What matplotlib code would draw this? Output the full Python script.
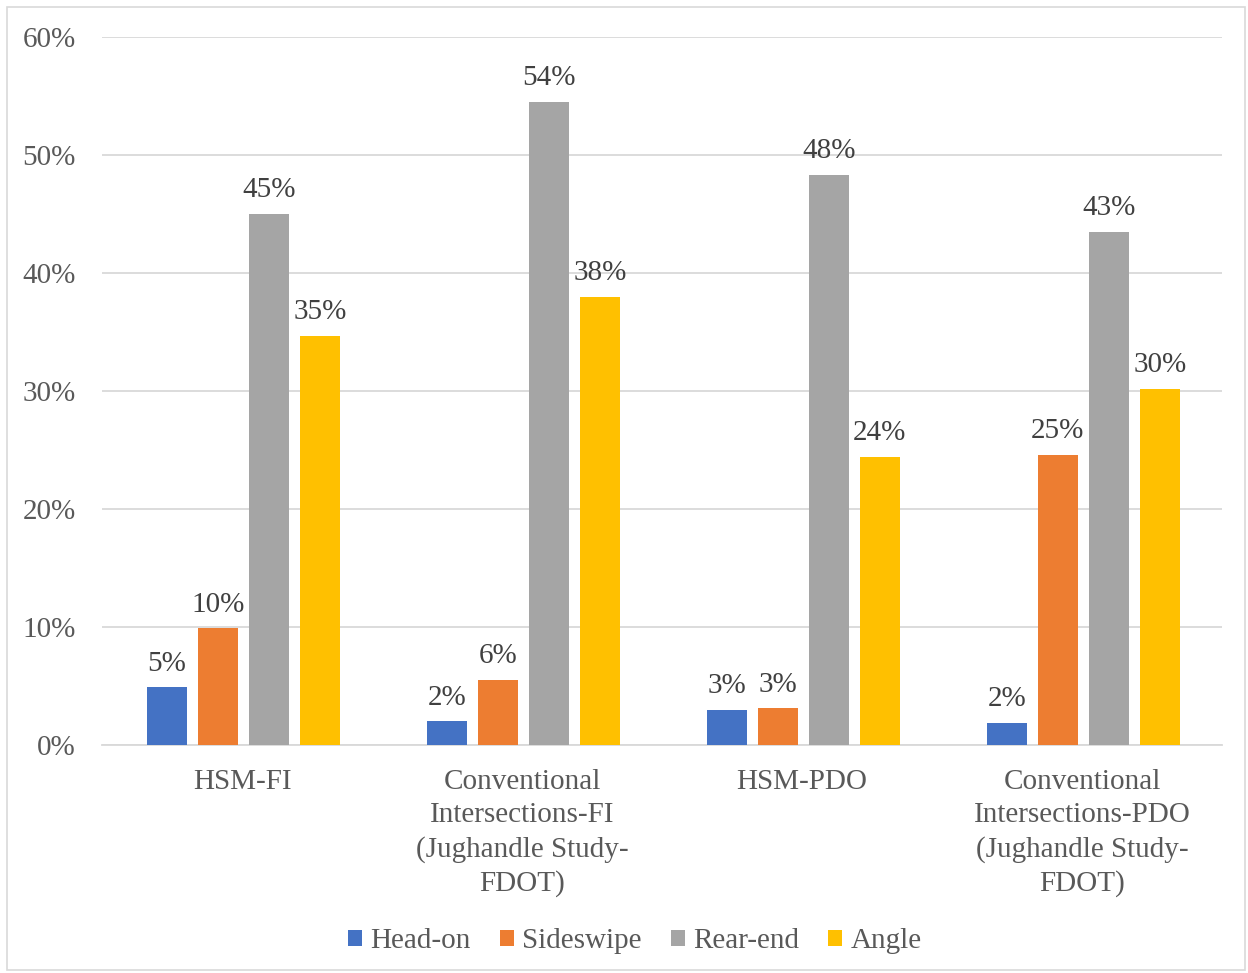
import numpy as np
import matplotlib.pyplot as plt
from matplotlib.patches import Rectangle

# crash type share by data source
categories = ['HSM-FI',
              'Conventional\nIntersections-FI\n(Jughandle Study-\nFDOT)',
              'HSM-PDO',
              'Conventional\nIntersections-PDO\n(Jughandle Study-\nFDOT)']
series_names = ['Head-on', 'Sideswipe', 'Rear-end', 'Angle']
head_on = [4.9, 2.0, 3.0, 1.9]
sideswipe = [9.9, 5.5, 3.1, 24.6]
rear_end = [45.0, 54.5, 48.3, 43.5]
angle = [34.7, 38.0, 24.4, 30.2]
labels = [['5%', '2%', '3%', '2%'],
          ['10%', '6%', '3%', '25%'],
          ['45%', '54%', '48%', '43%'],
          ['35%', '38%', '24%', '30%']]
colors = ['#4472C4', '#ED7D31', '#A5A5A5', '#FFC000']

plt.rcParams['font.family'] = ['Liberation Serif', 'DejaVu Serif']
txt = '#595959'
fs = 21

fig = plt.figure(figsize=(12.48, 9.73), dpi=100)
ax = fig.add_axes([102 / 1248, 1 - 745 / 973, 1120 / 1248, 708 / 973])

# outer chart border like excel
fig.patches.append(Rectangle((7 / 1248, 3 / 973), 1238 / 1248, 963 / 973,
                             transform=fig.transFigure, fill=False,
                             edgecolor='#D9D9D9', linewidth=1.2))

x = np.arange(len(categories))
width = 0.143
step = 0.182
for i, vals in enumerate([head_on, sideswipe, rear_end, angle]):
    pos = x + (i - 1.5) * step + 0.005
    bars = ax.bar(pos, vals, width, color=colors[i], label=series_names[i], zorder=3)
    for b, lab in zip(bars, labels[i]):
        ax.text(b.get_x() + b.get_width() / 2, b.get_height() + 0.9, lab,
                ha='center', va='bottom', fontsize=fs, color='#404040')

ax.set_xlim(-0.5, 3.5)
ax.set_ylim(0, 60)
ax.set_yticks(range(0, 61, 10))
ax.set_yticklabels([f'{v}%' for v in range(0, 61, 10)], fontsize=fs, color=txt)
ax.set_xticks(x)
ax.set_xticklabels(categories, fontsize=fs, color=txt, linespacing=1.37)
ax.tick_params(axis='both', length=0)
ax.tick_params(axis='y', pad=19)
ax.tick_params(axis='x', pad=17)
ax.grid(axis='y', color='#D9D9D9', linewidth=1.3, zorder=0)
for s in ['top', 'right', 'left']:
    ax.spines[s].set_visible(False)
ax.spines['bottom'].set_color('#D9D9D9')
ax.spines['bottom'].set_linewidth(1.3)

leg = fig.legend(loc='center', bbox_to_anchor=(635 / 1248, 1 - 941 / 973), ncol=4,
                 frameon=False, fontsize=fs, handlelength=0.48, handleheight=0.48,
                 handletextpad=0.28, columnspacing=1.0)
for t in leg.get_texts():
    t.set_color(txt)

fig.savefig('out.png', dpi=100)
